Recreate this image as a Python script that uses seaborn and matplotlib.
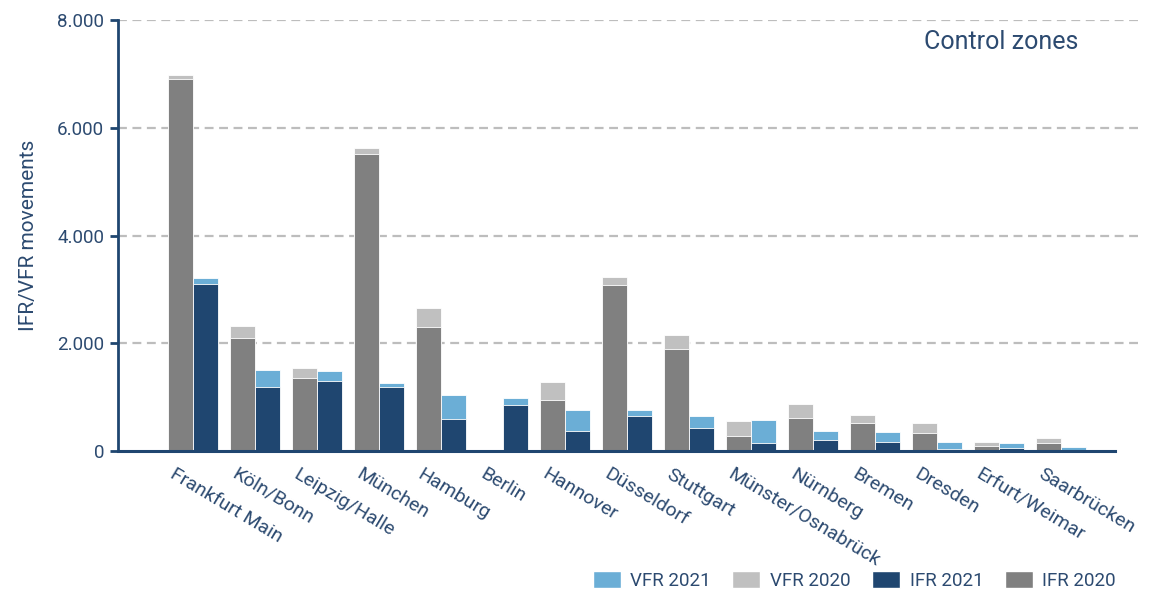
import matplotlib
matplotlib.use("Agg")
import matplotlib.pyplot as plt
import matplotlib.ticker as mticker
import matplotlib.transforms as mtransforms
from matplotlib.patches import Patch
import seaborn as sns
import pandas as pd

cities = ["Frankfurt Main", "Köln/Bonn", "Leipzig/Halle", "München", "Hamburg", "Berlin",
          "Hannover", "Düsseldorf", "Stuttgart", "Münster/Osnabrück", "Nürnberg", "Bremen",
          "Dresden", "Erfurt/Weimar", "Saarbrücken"]
ifr_2020 = [6900, 2100, 1360, 5520, 2300, 0, 950, 3080, 1890, 285, 620, 520, 335, 93, 155]
vfr_2020 = [80, 215, 175, 100, 360, 0, 325, 145, 260, 275, 250, 160, 180, 80, 92]
ifr_2021 = [3100, 1190, 1295, 1190, 600, 855, 378, 645, 433, 155, 205, 173, 42, 56, 30]
vfr_2021 = [105, 310, 185, 80, 440, 130, 390, 123, 217, 415, 172, 185, 133, 87, 44]
years = ["2020", "2021"]
y_ticks = [0, 2000, 4000, 6000, 8000]

rows = []
for i, c in enumerate(cities):
    rows.append({"city": c, "year": "2020", "ifr": ifr_2020[i], "total": ifr_2020[i] + vfr_2020[i]})
    rows.append({"city": c, "year": "2021", "ifr": ifr_2021[i], "total": ifr_2021[i] + vfr_2021[i]})
df = pd.DataFrame(rows)

sns.set_theme(style="white")
plt.rcParams["font.family"] = ["Roboto", "DejaVu Sans"]

navy = "#1F4670"
txt = "#2C4A70"
c_vfr21 = "#6BAED6"
c_vfr20 = "#C0C0C0"
c_ifr21 = "#1F4670"
c_ifr20 = "#808080"

fig = plt.figure(figsize=(11.57, 6.04), dpi=100)
ax = fig.add_axes([0.102, 0.253, 0.886, 0.714])

sns.barplot(data=df, x="city", y="total", hue="year", hue_order=years,
            palette={"2020": c_vfr20, "2021": c_vfr21}, width=0.8, ax=ax,
            edgecolor="white", linewidth=0.6, legend=False, errorbar=None, saturation=1)
sns.barplot(data=df, x="city", y="ifr", hue="year", hue_order=years,
            palette={"2020": c_ifr20, "2021": c_ifr21}, width=0.8, ax=ax,
            edgecolor="white", linewidth=0.6, legend=False, errorbar=None, saturation=1)

ax.set_ylim(0, 8000)
ax.set_xlim(-1.21, 15.32)
ax.set_yticks(y_ticks)
ax.yaxis.set_major_formatter(mticker.FuncFormatter(lambda v, p: f"{int(v):,}".replace(",", ".")))
for yv in y_ticks[1:]:
    ax.axhline(yv, color="#BDBDBD", linestyle=(0, (4, 2.5)), linewidth=1.6, zorder=0)

for s in ["top", "right"]:
    ax.spines[s].set_visible(False)
ax.spines["left"].set_color(navy)
ax.spines["left"].set_linewidth(2)
ax.spines["bottom"].set_color(navy)
ax.spines["bottom"].set_linewidth(2.2)
ax.spines["bottom"].set_bounds(-1.21, 14.87)

ax.tick_params(axis="y", which="major", left=True, length=6, width=2, color=navy,
               labelsize=13.5, labelcolor=txt, pad=4)
ax.tick_params(axis="x", bottom=False, labelsize=14, labelcolor=txt, pad=4)
ax.set_xticks(range(len(cities)))
ax.set_xticklabels(cities, rotation=-31, ha="left", va="top", rotation_mode="anchor")
shift = mtransforms.ScaledTranslation(-0.17, 0, fig.dpi_scale_trans)
for lab in ax.get_xticklabels():
    lab.set_transform(lab.get_transform() + shift)

ax.set_xlabel("")
ax.set_ylabel("IFR/VFR movements", fontsize=15, color=txt, labelpad=14)

ax.text(0.937, 0.949, "Control zones", transform=ax.transAxes, ha="right", va="center",
        fontsize=18, color=txt)

handles = [Patch(facecolor=c_vfr21, label="VFR 2021"), Patch(facecolor=c_vfr20, label="VFR 2020"),
           Patch(facecolor=c_ifr21, label="IFR 2021"), Patch(facecolor=c_ifr20, label="IFR 2020")]
leg = fig.legend(handles=handles, loc="lower right", bbox_to_anchor=(0.979, -0.005), ncol=4,
                 frameon=False, fontsize=13.5, handlelength=1.5, handleheight=1.05,
                 columnspacing=1.15, handletextpad=0.5)
for t in leg.get_texts():
    t.set_color(txt)

fig.savefig("out.png", dpi=100)
